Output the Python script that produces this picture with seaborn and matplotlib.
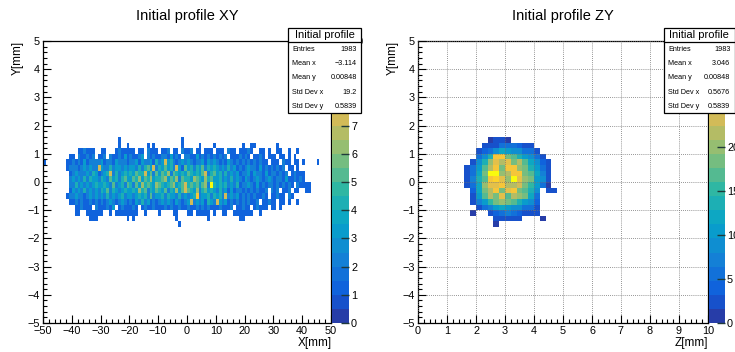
import numpy as np
import pandas as pd
import matplotlib
matplotlib.use("Agg")
import matplotlib.pyplot as plt
import seaborn as sns
from matplotlib.colors import LinearSegmentedColormap, ListedColormap
from matplotlib.patches import Rectangle
from matplotlib.lines import Line2D
from matplotlib.ticker import MultipleLocator

# ---- data ----
# XY histogram: 1 mm bins in X starting at -50, 0.2 mm bins in Y (lower edges, top row first)
# one character per bin, 'a' = 10; groups of 10 bins: -50, -40, ..., 30, then 40..45
xy_x_start = -50
xy_rows = [1.4, 1.2, 1.0, 0.8, 0.6, 0.4, 0.2, 0.0, -0.2, -0.4, -0.6, -0.8, -1.0, -1.2, -1.4, -1.6]
xy_counts = [
    "0000000000 0000000000 0000001000 0000000000 0000000010 0000000000 0000000000 0000000000 0000000000 000000",
    "0000000000 0000000000 0000001001 0000001010 0000000010 0000100001 0000000001 0011000000 0100000000 000000",
    "0000000000 0011211100 1100012111 1101102111 0112011021 1201101110 1110211011 1210011010 0110010010 000000",
    "0000000001 1021121201 1202112131 2112302121 1221312102 2113121212 1212011121 2101121011 1011010100 000000",
    "1000000011 2121312222 3122132221 2231322314 2373421232 3212231323 2121321212 1212121101 1102110110 100001",
    "0000000012 2212323227 3224233232 3324245372 4353427315 3424352434 3232423121 2322131212 1212011010 000000",
    "0000000001 2322232431 2347242343 4354473525 3546254343 5434357245 3424232312 2313221312 2121201211 100000",
    "0000000002 3232424332 4325342453 3546354634 4563546254 4365436453 3423242321 3212321232 1221311212 100000",
    "0000000002 2423232343 3432523425 4253645436 5434563457 45453562a4 3434232412 2321312122 1212121021 111000",
    "0000000001 3232423232 4352432343 3436452435 4352436357 5436245343 2423131221 2121211202 1201120110 011000",
    "0000000012 2322123232 3242323423 3234342523 3424332423 2348233424 3427232312 1212112101 1211021000 000000",
    "0000000001 1212112121 2123212321 2132423121 2323213212 3723231432 7323121212 1211201121 1011010010 000000",
    "0000000000 0112111021 1121301211 1210121121 1121211211 2112121211 1211120112 1101211101 1010000000 000000",
    "0000000000 0110011111 1001011111 1110010000 1000011000 1101111101 0011001111 1110010000 0000000000 000000",
    "0000000000 0000001110 0000000001 0100000000 0000001000 0000000100 0000000011 0000000000 0000000000 000000",
    "0000000000 0000000000 0000000000 0000000000 0000000100 0000000000 0000000000 0000000000 0000000000 000000",
]

# ZY histogram: 0.2 mm bins, Z lower edges / Y lower edges (top row first)
zy_cols = [1.6, 1.8, 2.0, 2.2, 2.4, 2.6, 2.8, 3.0, 3.2, 3.4, 3.6, 3.8, 4.0, 4.2, 4.4, 4.6]
zy_rows = [1.4, 1.2, 1.0, 0.8, 0.6, 0.4, 0.2, 0.0, -0.2, -0.4, -0.6, -0.8, -1.0, -1.2, -1.4, -1.6]
zy_counts = [
    [0, 0, 0, 0, 1, 2, 2, 1, 0, 0, 0, 0, 0, 0, 0, 0],
    [0, 0, 0, 2, 2, 3, 5, 6, 5, 4, 2, 2, 0, 0, 0, 0],
    [0, 0, 2, 4, 6, 9, 12, 11, 9, 8, 6, 5, 3, 0, 0, 0],
    [0, 0, 5, 9, 14, 26, 27, 19, 17, 14, 11, 8, 5, 2, 0, 0],
    [0, 2, 8, 13, 20, 24, 22, 25, 18, 22, 16, 12, 8, 4, 2, 0],
    [2, 5, 11, 16, 22, 27, 19, 27, 26, 20, 18, 13, 10, 6, 2, 0],
    [3, 6, 12, 18, 31, 31, 20, 22, 27, 26, 19, 17, 12, 7, 3, 0],
    [2, 7, 13, 17, 26, 28, 24, 20, 32, 25, 20, 18, 11, 8, 2, 0],
    [2, 5, 12, 20, 24, 25, 27, 22, 21, 23, 19, 15, 11, 6, 1, 0],
    [0, 4, 12, 18, 21, 27, 19, 24, 26, 19, 17, 14, 9, 0, 3, 2],
    [0, 3, 10, 16, 22, 19, 24, 17, 22, 20, 18, 12, 6, 0, 0, 0],
    [0, 3, 7, 11, 15, 18, 20, 18, 17, 14, 10, 8, 4, 0, 0, 0],
    [0, 0, 3, 5, 7, 10, 12, 11, 9, 8, 6, 5, 3, 0, 0, 0],
    [0, 1, 0, 0, 3, 4, 6, 7, 5, 4, 3, 2, 3, 0, 0, 0],
    [0, 0, 0, 0, 0, 2, 3, 3, 2, 2, 0, 0, 0, 1, 0, 0],
    [0, 0, 0, 0, 0, 1, 0, 0, 0, 0, 0, 0, 0, 0, 0, 0],
]

stat_labels = ["Entries", "Mean x", "Mean y", "Std Dev x", "Std Dev y"]
stats_xy = ["1983", "\u22123.114", "0.00848", "19.2", "0.5839"]
stats_zy = ["1983", "3.046", "0.00848", "0.5676", "0.5839"]

# ---- build long tables ----
rows = []
for y0, line in zip(xy_rows, xy_counts):
    cells = "".join(line.split())
    assert len(cells) == 96, (y0, len(cells))
    for i, c in enumerate(cells):
        rows.append((xy_x_start + i + 0.5, y0 + 0.1, int(c, 16)))
xy_df = pd.DataFrame(rows, columns=["x", "y", "n"])

rows = []
for y0, line in zip(zy_rows, zy_counts):
    for z0, n in zip(zy_cols, line):
        rows.append((z0 + 0.1, y0 + 0.1, n))
zy_df = pd.DataFrame(rows, columns=["x", "y", "n"])

# ROOT kBird palette, 20 contour bands
stops = [0.0, 0.125, 0.25, 0.375, 0.5, 0.625, 0.75, 0.875, 1.0]
red = [0.2082, 0.0592, 0.0780, 0.0232, 0.1802, 0.5301, 0.8186, 0.9956, 0.9764]
green = [0.1664, 0.3599, 0.5041, 0.6419, 0.7178, 0.7492, 0.7328, 0.7862, 0.9832]
blue = [0.5293, 0.8684, 0.8385, 0.7914, 0.6425, 0.4662, 0.3499, 0.1968, 0.0539]
bird = LinearSegmentedColormap.from_list("bird", list(zip(stops, zip(red, green, blue))))
bands = ListedColormap([bird(int((i + 0.99) * 255 / 20) / 254) for i in range(20)])

plt.rcParams["font.family"] = ["Liberation Sans", "DejaVu Sans"]

W, H = 735, 352
fig = plt.figure(figsize=(W / 100, H / 100), dpi=100)


def px_axes(x0, y0, x1, y1):
    return fig.add_axes([x0 / W, 1 - y1 / H, (x1 - x0) / W, (y1 - y0) / H])


def draw_panel(ax, cax, df, xedges, vmax, xmaj, xmin_, cticks, grid):
    yedges = np.linspace(-5, 5, 51)
    sns.histplot(data=df, x="x", y="y", weights="n", bins=[xedges, yedges],
                 cmap=bands, vmin=0, vmax=vmax, cbar=True, cbar_ax=cax, ax=ax)
    ax.set_xlim(xedges[0], xedges[-1])
    ax.set_ylim(-5, 5)
    ax.set_xlabel("")
    ax.set_ylabel("")
    ax.xaxis.set_major_locator(MultipleLocator(xmaj))
    ax.xaxis.set_minor_locator(MultipleLocator(xmin_))
    ax.yaxis.set_major_locator(MultipleLocator(1))
    ax.yaxis.set_minor_locator(MultipleLocator(0.2))
    ax.tick_params(which="both", direction="in", top=False, right=False,
                   labelsize=7.8, width=0.8, color="black")
    ax.tick_params(which="major", length=6, pad=2.5)
    ax.tick_params(which="minor", length=3)
    for s in ax.spines.values():
        s.set_linewidth(0.9)
        s.set_color("black")
    if grid:
        ax.set_axisbelow(False)
        ax.grid(True, which="major", color="0.45", linestyle=(0, (1, 1.5)), linewidth=0.6)
    else:
        ax.grid(False)
    cax.set_ylim(0, vmax)
    cax.yaxis.set_ticks(cticks)
    cax.yaxis.set_ticks_position("right")
    cax.minorticks_off()
    cax.tick_params(direction="in", length=6, width=1.0, labelsize=7.8, pad=1.5,
                    color="#1f3a3a")
    for s in cax.spines.values():
        s.set_visible(False)


def stats_box(x0, x1, values):
    y0, y1 = 28, 113
    fig.add_artist(Rectangle((x0 / W, 1 - y1 / H), (x1 - x0) / W, (y1 - y0) / H,
                             transform=fig.transFigure, facecolor="white",
                             edgecolor="black", linewidth=0.9, zorder=5))
    fig.add_artist(Line2D([x0 / W, x1 / W], [1 - 41.5 / H] * 2, color="black",
                          linewidth=0.9, transform=fig.transFigure, zorder=6))
    fig.text((x0 + x1) / 2 / W, 1 - 35 / H, "Initial profile", ha="center", va="center",
             fontsize=8, zorder=7)
    for i, (lab, val) in enumerate(zip(stat_labels, values)):
        yy = 49.5 + i * 14.2
        fig.text((x0 + 4) / W, 1 - yy / H, lab, ha="left", va="center", fontsize=5.2, zorder=7)
        fig.text((x1 - 4) / W, 1 - yy / H, val, ha="right", va="center", fontsize=5.2, zorder=7)


# left panel: XY
ax1 = px_axes(43, 41, 331, 323)
cax1 = px_axes(332, 41, 349, 323)
draw_panel(ax1, cax1, xy_df, np.linspace(-50, 50, 101), 10, 10, 2, range(0, 11), False)
fig.text(187 / W, 1 - 16 / H, "Initial profile XY", ha="center", va="center", fontsize=10.5)
fig.text(17.5 / W, 1 - 41 / H, "Y[mm]", rotation=90, ha="center", va="top", fontsize=8.5)
fig.text(332 / W, 1 - 343 / H, "X[mm]", ha="right", va="center", fontsize=8.5)
stats_box(288, 361, stats_xy)

# right panel: ZY
ax2 = px_axes(418, 41, 708, 323)
cax2 = px_axes(709, 41, 725, 323)
draw_panel(ax2, cax2, zy_df, np.linspace(0, 10, 51), 32, 1, 0.2, range(0, 31, 5), True)
fig.text(563 / W, 1 - 16 / H, "Initial profile ZY", ha="center", va="center", fontsize=10.5)
fig.text(393 / W, 1 - 41 / H, "Y[mm]", rotation=90, ha="center", va="top", fontsize=8.5)
fig.text(708 / W, 1 - 343 / H, "Z[mm]", ha="right", va="center", fontsize=8.5)
stats_box(664, 734.5, stats_zy)

fig.savefig("out.png", dpi=100)
